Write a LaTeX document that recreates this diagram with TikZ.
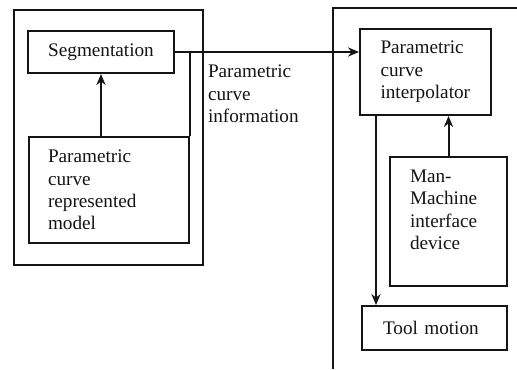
\documentclass[tikz,border=0pt]{standalone}
\usepackage{fontspec}
\setmainfont{Liberation Serif}
\usetikzlibrary{arrows.meta, positioning, calc}
\definecolor{darkline}{RGB}{20, 20, 20}
\tikzset{
  block/.style={draw=darkline, line width=1pt, inner sep=0pt, text=darkline,
    font=\fontsize{9.6}{11.2}\selectfont},
  flow/.style={draw=darkline, line width=1pt},
  arrowflow/.style={flow, -{Stealth[length=5.5pt, width=4.6pt]}}
}

\begin{document}
\begin{tikzpicture}[x=0.5pt, y=-0.5pt]
  \useasboundingbox (0, 0) rectangle (517, 369);
  \draw[flow] (14, 10) rectangle (203, 265);
  \draw[flow] (517, 8) -- (333, 8) -- (333, 369);
  \node[block, minimum width=73pt, minimum height=21pt] (seg) at (101, 52) {Segmentation};
  \node[block, minimum width=80pt, minimum height=53pt, text width=61pt, align=left] (model) at (109, 190)
    {Parametric\\curve\\represented\\model};
  \node[block, minimum width=65.5pt, minimum height=43pt, text width=45pt, align=left] (interp) at (425.5, 72)
    {Parametric\\curve\\interpolator};
  \node[block, minimum width=58.5pt, minimum height=64.5pt, text width=38.5pt, align=left,
    text depth=45.3pt] (mmi) at (448.5, 221.5)
    {Man-\\Machine\\interface\\device};
  \node[block, minimum width=72.5pt, minimum height=22pt, text width=51.5pt, align=left] (tool) at (434.5, 328)
    {Tool motion};
  \node[block, draw=none, anchor=north west, align=left] (info) at (207, 64)
    {Parametric\\curve\\information};
  \coordinate (tap) at ($(interp.south west)+(17, 0)$);
  \draw[arrowflow] (seg.south |- model.north) -- (seg.south);
  \draw[arrowflow] (seg.east) -- (seg.east -| interp.west);
  \draw[flow] (model.north east) -- (model.north east |- seg.east);
  \draw[arrowflow] (tap) -- (tap |- tool.north);
  \draw[arrowflow] (mmi.north) -- (mmi.north |- interp.south);
\end{tikzpicture}
\end{document}
